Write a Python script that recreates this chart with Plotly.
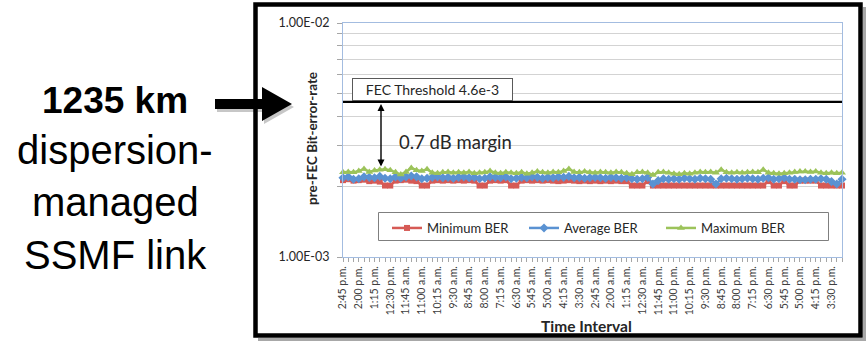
import numpy as np
import plotly.graph_objects as go

# ---------------- data ----------------
categories = [
    "2:45 p.m.", "2:30 p.m.", "2:15 p.m.", "2:00 p.m.", "1:45 p.m.", "1:30 p.m.", "1:15 p.m.", "1:00 p.m.",
    "12:45 p.m.", "12:30 p.m.", "12:15 p.m.", "12:00 p.m.", "11:45 a.m.", "11:30 a.m.", "11:15 a.m.", "11:00 a.m.",
    "10:45 a.m.", "10:30 a.m.", "10:15 a.m.", "10:00 a.m.", "9:45 a.m.", "9:30 a.m.", "9:15 a.m.", "9:00 a.m.",
    "8:45 a.m.", "8:30 a.m.", "8:15 a.m.", "8:00 a.m.", "7:45 a.m.", "7:30 a.m.", "7:15 a.m.", "7:00 a.m.",
    "6:45 a.m.", "6:30 a.m.", "6:15 a.m.", "6:00 a.m.", "5:45 a.m.", "5:30 a.m.", "5:15 a.m.", "5:00 a.m.",
    "4:45 a.m.", "4:30 a.m.", "4:15 a.m.", "4:00 a.m.", "3:45 a.m.", "3:30 a.m.", "3:15 a.m.", "3:00 a.m.",
    "2:45 a.m.", "2:30 a.m.", "2:15 a.m.", "2:00 a.m.", "1:45 a.m.", "1:30 a.m.", "1:15 a.m.", "1:00 a.m.",
    "12:45 a.m.", "12:30 a.m.", "12:15 a.m.", "12:00 a.m.", "11:45 p.m.", "11:30 p.m.", "11:15 p.m.", "11:00 p.m.",
    "10:45 p.m.", "10:30 p.m.", "10:15 p.m.", "10:00 p.m.", "9:45 p.m.", "9:30 p.m.", "9:15 p.m.", "9:00 p.m.",
    "8:45 p.m.", "8:30 p.m.", "8:15 p.m.", "8:00 p.m.", "7:45 p.m.", "7:30 p.m.", "7:15 p.m.", "7:00 p.m.",
    "6:45 p.m.", "6:30 p.m.", "6:15 p.m.", "6:00 p.m.", "5:45 p.m.", "5:30 p.m.", "5:15 p.m.", "5:00 p.m.",
    "4:45 p.m.", "4:30 p.m.", "4:15 p.m.", "4:00 p.m.", "3:45 p.m.", "3:30 p.m.", "3:15 p.m.", "3:00 p.m.",
]

tick_labels = [
    "2:45 p.m.", "2:00 p.m.", "1:15 p.m.", "12:30 p.m.", "11:45 a.m.", "11:00 a.m.", "10:15 a.m.", "9:30 a.m.",
    "8:45 a.m.", "8:00 a.m.", "7:15 a.m.", "6:30 a.m.", "5:45 a.m.", "5:00 a.m.", "4:15 a.m.", "3:30 a.m.",
    "2:45 a.m.", "2:00 a.m.", "1:15 a.m.", "12:30 a.m.", "11:45 p.m.", "11:00 p.m.", "10:15 p.m.", "9:30 p.m.",
    "8:45 p.m.", "8:00 p.m.", "7:15 p.m.", "6:30 p.m.", "5:45 p.m.", "5:00 p.m.", "4:15 p.m.", "3:30 p.m.",
]

# BER values in units of 1e-3
min_ber_e3 = [
    2.13, 2.15, 2.12, 2.13, 2.14, 2.11, 2.12, 2.10, 2.02, 2.02, 2.12, 2.13, 2.14, 2.12, 2.11, 2.02,
    2.02, 2.12, 2.13, 2.12, 2.13, 2.12, 2.13, 2.12, 2.13, 2.12, 2.02, 2.02, 2.12, 2.13, 2.12, 2.13,
    2.02, 2.02, 2.12, 2.13, 2.12, 2.13, 2.12, 2.13, 2.12, 2.11, 2.12, 2.13, 2.12, 2.11, 2.12, 2.11,
    2.12, 2.11, 2.12, 2.11, 2.12, 2.11, 2.11, 2.02, 2.02, 2.02, 2.11, 2.02, 2.02, 2.02, 2.02, 2.02,
    2.02, 2.02, 2.02, 2.02, 2.02, 2.02, 2.02, 2.02, 2.02, 2.02, 2.02, 2.02, 2.02, 2.02, 2.02, 2.02,
    2.02, 2.11, 2.02, 2.02, 2.11, 2.02, 2.02, 2.12, 2.12, 2.12, 2.12, 2.02, 2.02, 2.02, 2.02, 2.02,
]
avg_ber_e3 = [
    2.18, 2.20, 2.15, 2.16, 2.20, 2.19, 2.18, 2.21, 2.17, 2.16, 2.20, 2.17, 2.20, 2.22, 2.20, 2.16,
    2.17, 2.19, 2.20, 2.18, 2.19, 2.17, 2.19, 2.20, 2.18, 2.19, 2.16, 2.17, 2.20, 2.19, 2.18, 2.20,
    2.16, 2.17, 2.19, 2.18, 2.20, 2.19, 2.17, 2.19, 2.18, 2.20, 2.19, 2.21, 2.18, 2.19, 2.17, 2.18,
    2.19, 2.18, 2.17, 2.19, 2.18, 2.17, 2.18, 2.16, 2.15, 2.16, 2.19, 2.05, 2.12, 2.16, 2.15, 2.16,
    2.15, 2.17, 2.16, 2.15, 2.17, 2.16, 2.15, 2.05, 2.16, 2.17, 2.16, 2.15, 2.16, 2.17, 2.16, 2.15,
    2.17, 2.18, 2.15, 2.16, 2.18, 2.15, 2.15, 2.14, 2.14, 2.15, 2.15, 2.16, 2.15, 2.10, 2.05, 2.15,
]
max_ber_e3 = [
    2.30, 2.31, 2.30, 2.33, 2.38, 2.31, 2.34, 2.36, 2.37, 2.35, 2.30, 2.25, 2.31, 2.40, 2.35, 2.33,
    2.37, 2.29, 2.28, 2.30, 2.31, 2.29, 2.30, 2.29, 2.31, 2.28, 2.29, 2.30, 2.33, 2.29, 2.28, 2.30,
    2.29, 2.28, 2.30, 2.27, 2.29, 2.32, 2.30, 2.29, 2.31, 2.30, 2.33, 2.38, 2.31, 2.30, 2.32, 2.30,
    2.29, 2.31, 2.30, 2.29, 2.31, 2.30, 2.28, 2.26, 2.30, 2.31, 2.29, 2.24, 2.30, 2.31, 2.29, 2.27,
    2.26, 2.28, 2.27, 2.29, 2.31, 2.30, 2.31, 2.29, 2.36, 2.30, 2.29, 2.30, 2.29, 2.30, 2.31, 2.30,
    2.36, 2.29, 2.28, 2.27, 2.28, 2.29, 2.31, 2.32, 2.32, 2.31, 2.32, 2.29, 2.28, 2.29, 2.28, 2.29,
]

fec_threshold = 4.6e-3
y_grid = [1e-3, 2e-3, 3e-3, 4e-3, 5e-3, 6e-3, 7e-3, 8e-3, 9e-3, 1e-2]
y_grid_text = ["1.00E-03", "", "", "", "", "", "", "", "", "1.00E-02"]

# ---------------- geometry ----------------
FW, FH = 866, 341
L, R, T, B = 343, 842, 23, 257
PW, PH = R - L, B - T


def px(x):
    return (x - L) / PW


def py(y):
    return (B - y) / PH


def path(pts):
    return "M " + " L ".join(f"{px(x):.5f},{py(y):.5f}" for x, y in pts) + " Z"


CH = "Lato, 'Open Sans', sans-serif"
AR = "'Liberation Sans', Arial, sans-serif"

RED = "#D65A55"
BLUE = "#5A92D2"
GREEN = "#9CC35A"

fig = go.Figure()

fig.add_trace(go.Scatter(
    x=categories, y=[v * 1e-3 for v in min_ber_e3], name="Minimum BER", mode="lines+markers",
    line=dict(color=RED, width=2.5), marker=dict(symbol="square", size=6, color=RED),
    cliponaxis=False,
))
fig.add_trace(go.Scatter(
    x=categories, y=[v * 1e-3 for v in avg_ber_e3], name="Average BER", mode="lines+markers",
    line=dict(color=BLUE, width=2.5), marker=dict(symbol="diamond", size=7, color=BLUE),
    cliponaxis=False,
))
fig.add_trace(go.Scatter(
    x=categories, y=[v * 1e-3 for v in max_ber_e3], name="Maximum BER", mode="lines+markers",
    line=dict(color=GREEN, width=2.5), marker=dict(symbol="triangle-up", size=7, color=GREEN),
    cliponaxis=False,
))
fig.add_trace(go.Scatter(
    x=[categories[0], categories[-1]], y=[fec_threshold, fec_threshold], mode="lines",
    line=dict(color="black", width=2.2), showlegend=False, hoverinfo="skip",
))

ticktext_x = [c if c in tick_labels else "" for c in categories]

fig.update_layout(
    width=FW, height=FH,
    margin=dict(l=L, r=FW - R, t=T, b=FH - B, pad=0),
    paper_bgcolor="white", plot_bgcolor="white",
    font=dict(family=CH, color="#262626"),
    showlegend=True,
    legend=dict(
        orientation="h", x=px(387), y=py(213), xanchor="left", yanchor="top",
        borderwidth=0, bgcolor="rgba(0,0,0,0)",
        font=dict(family=CH, size=13, color="#262626"), itemwidth=30,
        entrywidth=92, entrywidthmode="pixels",
        traceorder="normal",
    ),
    xaxis=dict(
        type="category", range=[0, len(categories) - 1],
        tickmode="array", tickvals=categories, ticktext=ticktext_x,
        tickangle=-90, tickfont=dict(family=CH, size=10.5, color="#404040"),
        ticks="outside", ticklen=4, tickcolor="#A6A6A6",
        showgrid=False, showline=True, linecolor="#A3BCE0", linewidth=1, mirror=True,
        zeroline=False,
    ),
    yaxis=dict(
        type="log", range=[-3, -2],
        tickmode="array", tickvals=y_grid, ticktext=y_grid_text,
        tickfont=dict(family=CH, size=12.5, color="#262626"),
        ticks="outside", ticklen=5, tickcolor="#A6A6A6", ticklabelstandoff=5,
        showgrid=True, gridcolor="#D3D3D3", gridwidth=1,
        showline=True, linecolor="#A3BCE0", linewidth=1, mirror=True,
        zeroline=False,
    ),
)

shapes = [
    # frame shadow
    dict(type="rect", xref="paper", yref="paper", x0=px(258), x1=px(866), y0=py(7), y1=py(341),
         fillcolor="#A8A8A8", line=dict(width=0), layer="below"),
    dict(type="rect", xref="paper", yref="paper", x0=px(253), x1=px(863), y0=py(2), y1=py(338),
         fillcolor="white", line=dict(width=0), layer="below"),
    dict(type="rect", xref="paper", yref="paper", x0=px(255.5), x1=px(860.5), y0=py(4.5), y1=py(335.5),
         line=dict(color="black", width=4.5), layer="above"),
    # legend box
    dict(type="rect", xref="paper", yref="paper", x0=px(378.5), x1=px(828.5), y0=py(212.5), y1=py(240.5),
         fillcolor="white", line=dict(color="#7F7F7F", width=1), layer="above"),
    # big arrow shadow + arrow
    dict(type="path", xref="paper", yref="paper",
         path=path([(217, 102), (264, 102), (264, 90), (294, 107), (264, 124), (264, 112), (217, 112)]),
         fillcolor="rgba(0,0,0,0.22)", line=dict(width=0)),
    dict(type="path", xref="paper", yref="paper",
         path=path([(215, 99), (262, 99), (262, 87), (292, 104), (262, 121), (262, 109), (215, 109)]),
         fillcolor="black", line=dict(width=0)),
]

annotations = [
    dict(text="<b>pre-FEC Bit-error-rate</b>", x=px(312), y=py(139), xref="paper", yref="paper",
         xanchor="center", yanchor="middle",
         textangle=-90, showarrow=False, font=dict(family=CH, size=13.5, color="#262626")),
    dict(text="<b>Time Interval</b>", x=px(586), y=py(326), xref="paper", yref="paper",
         xanchor="center", yanchor="middle",
         showarrow=False, font=dict(family=CH, size=15.5, color="#262626")),
    dict(text="FEC Threshold 4.6e-3", x=px(352), y=np.log10(fec_threshold), xref="paper", yref="y",
         xanchor="left", yanchor="bottom", yshift=1, showarrow=False, align="center", width=155,
         bordercolor="#595959", borderwidth=1, borderpad=2, bgcolor="white",
         font=dict(family=CH, size=14, color="#262626")),
    dict(text="0.7 dB margin", x=px(397), y=py(142), xref="paper", yref="paper",
         xanchor="left", yanchor="middle", showarrow=False, font=dict(family=CH, size=18.5, color="#262626")),
    dict(text="", x=px(381), y=py(104), xref="paper", yref="paper",
         ax=0, ay=64, axref="pixel", ayref="pixel",
         showarrow=True, arrowside="end+start", arrowhead=2, startarrowhead=2,
         arrowsize=1, startarrowsize=1, arrowwidth=1.4, arrowcolor="black", standoff=0, startstandoff=0),
    dict(text="<b>1235 km</b>", x=px(115), y=py(100), xref="paper", yref="paper",
         xanchor="center", yanchor="middle",
         showarrow=False, font=dict(family=AR, size=37, color="black")),
    dict(text="dispersion-", x=px(115), y=py(150), xref="paper", yref="paper",
         xanchor="center", yanchor="middle",
         showarrow=False, font=dict(family=AR, size=40, color="black")),
    dict(text="managed", x=px(115), y=py(202), xref="paper", yref="paper",
         xanchor="center", yanchor="middle",
         showarrow=False, font=dict(family=AR, size=40, color="black")),
    dict(text="SSMF link", x=px(115), y=py(255), xref="paper", yref="paper",
         xanchor="center", yanchor="middle",
         showarrow=False, font=dict(family=AR, size=40, color="black")),
]

fig.update_layout(shapes=shapes, annotations=annotations)

fig.write_html(
    "out.html",
    config={"displayModeBar": False},
    post_script="document.body.style.margin='0';document.body.style.padding='0';",
)
